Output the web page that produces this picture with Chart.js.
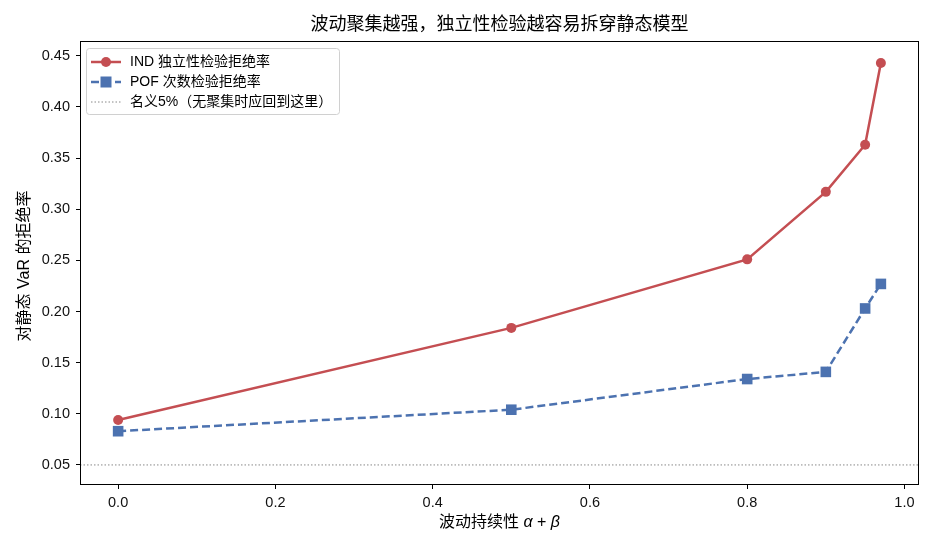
<!DOCTYPE html>
<html>
<head>
<meta charset="utf-8">
<script src="https://cdn.jsdelivr.net/npm/chart.js@4.4.1/dist/chart.umd.min.js"></script>
<style>
  html, body { margin: 0; padding: 0; background: #fff; }
</style>
</head>
<body>
<canvas id="myChart" width="935" height="550"></canvas>
<script>
// data
const persistence = [0.0, 0.5, 0.8, 0.9, 0.95, 0.97];
const indReject = [0.094, 0.184, 0.251, 0.317, 0.363, 0.443];
const pofReject = [0.083, 0.104, 0.134, 0.141, 0.203, 0.227];
const nominalLevel = 0.05;

const seriesLabels = ["IND 独立性检验拒绝率", "POF 次数检验拒绝率", "名义5%（无聚集时应回到这里）"];
const xTicks = [0.0, 0.2, 0.4, 0.6, 0.8, 1.0];
const yTicks = [0.05, 0.10, 0.15, 0.20, 0.25, 0.30, 0.35, 0.40, 0.45];
const xRange = [-0.0485, 1.0185];
const yRange = [0.0304, 0.4645];

const chartTitle = "波动聚集越强，独立性检验越容易拆穿静态模型";
const yTitle = "对静态 VaR 的拒绝率";

const RED = "#c44e52";
const BLUE = "#4c72b0";
const FONT = "'Liberation Sans', 'Noto Sans CJK SC', sans-serif";

window.onload = main;

function main() {
    Chart.defaults.font.family = FONT;
    Chart.defaults.color = "#000";

    const ctx = document.getElementById("myChart").getContext("2d");
    new Chart(ctx, {
        type: "line",
        data: {
            datasets: [{
                label: seriesLabels[0],
                data: persistence.map((x, i) => ({ x: x, y: indReject[i] })),
                borderColor: RED,
                backgroundColor: RED,
                borderWidth: 2.5,
                pointStyle: "circle",
                pointRadius: 5,
                pointBorderWidth: 0,
                tension: 0
            }, {
                label: seriesLabels[1],
                data: persistence.map((x, i) => ({ x: x, y: pofReject[i] })),
                borderColor: BLUE,
                backgroundColor: BLUE,
                borderWidth: 2.5,
                borderDash: [8, 4],
                pointStyle: "rect",
                pointRadius: 7.5,
                pointBorderWidth: 0,
                tension: 0
            }, {
                label: seriesLabels[2],
                data: xRange.map(x => ({ x: x, y: nominalLevel })),
                borderColor: "#888",
                borderWidth: 1,
                borderDash: [1.5, 2],
                pointRadius: 0
            }]
        },
        options: {
            responsive: false,
            animation: false,
            devicePixelRatio: 1,
            layout: { padding: { top: 41, right: 16, left: 0, bottom: 0 } },
            plugins: {
                legend: { display: false },
                title: { display: false },
                tooltip: { enabled: false }
            },
            scales: {
                x: {
                    type: "linear",
                    min: xRange[0],
                    max: xRange[1],
                    afterBuildTicks: s => { s.ticks = xTicks.map(v => ({ value: v })); },
                    afterFit: s => { s.height = 65; },
                    ticks: {
                        autoSkip: false,
                        maxRotation: 0,
                        padding: 5,
                        font: { size: 14.5 },
                        color: "#111",
                        callback: v => v.toFixed(1)
                    },
                    grid: { drawOnChartArea: false, tickLength: 4, tickColor: "#000", tickWidth: 1 },
                    border: { display: false }
                },
                y: {
                    min: yRange[0],
                    max: yRange[1],
                    afterBuildTicks: s => { s.ticks = yTicks.map(v => ({ value: v })); },
                    afterFit: s => { s.width = 80; },
                    ticks: {
                        autoSkip: false,
                        padding: 6,
                        font: { size: 14.5 },
                        color: "#111",
                        callback: v => v.toFixed(2)
                    },
                    grid: { drawOnChartArea: false, tickLength: 4, tickColor: "#000", tickWidth: 1 },
                    border: { display: false }
                }
            }
        },
        plugins: [{
            id: "decor",
            afterDraw(chart) {
                const c = chart.ctx;
                const a = chart.chartArea;
                c.save();

                // frame
                c.strokeStyle = "#000";
                c.lineWidth = 1;
                c.strokeRect(Math.round(a.left) + 0.5, Math.round(a.top) + 0.5,
                    Math.round(a.right - a.left) - 1, Math.round(a.bottom - a.top) - 1);

                // title
                c.fillStyle = "#000";
                c.font = "18px " + FONT;
                c.textAlign = "center";
                c.textBaseline = "middle";
                c.fillText(chartTitle, (a.left + a.right) / 2, 25);

                // x title with italic symbols
                const parts = [["波动持续性 ", "normal"], ["α", "italic"], [" + ", "normal"], ["β", "italic"]];
                let total = 0;
                parts.forEach(p => { c.font = p[1] + " 16px " + FONT; total += c.measureText(p[0]).width; });
                let x = (a.left + a.right) / 2 - total / 2;
                c.textAlign = "left";
                parts.forEach(p => {
                    c.font = p[1] + " 16px " + FONT;
                    c.fillText(p[0], x, 523);
                    x += c.measureText(p[0]).width;
                });

                // y title
                c.save();
                c.translate(25, (a.top + a.bottom) / 2 + 3);
                c.rotate(-Math.PI / 2);
                c.textAlign = "center";
                c.font = "16px " + FONT;
                c.fillText(yTitle, 0, 0);
                c.restore();

                // legend
                const bx = 86, by = 48, bw = 253, bh = 66;
                c.beginPath();
                c.roundRect(bx + 0.5, by + 0.5, bw, bh, 3);
                c.fillStyle = "rgba(255,255,255,0.8)";
                c.fill();
                c.strokeStyle = "#d0d0d0";
                c.stroke();

                const rows = [62, 82, 102];
                const ds = chart.data.datasets;
                rows.forEach((ry, i) => {
                    const d = ds[i];
                    c.beginPath();
                    c.setLineDash(d.borderDash || []);
                    c.strokeStyle = d.borderColor;
                    c.lineWidth = d.borderWidth;
                    c.moveTo(91, ry);
                    c.lineTo(121, ry);
                    c.stroke();
                    c.setLineDash([]);
                    c.fillStyle = d.borderColor;
                    if (i === 0) {
                        c.beginPath();
                        c.arc(106, ry, 5, 0, Math.PI * 2);
                        c.fill();
                    } else if (i === 1) {
                        c.fillRect(100.5, ry - 5.5, 11, 11);
                    }
                    c.fillStyle = "#000";
                    c.font = "14px " + FONT;
                    c.textAlign = "left";
                    c.textBaseline = "middle";
                    c.fillText(d.label, 130, ry);
                });
                c.restore();
            }
        }]
    });
}
</script>
</body>
</html>
